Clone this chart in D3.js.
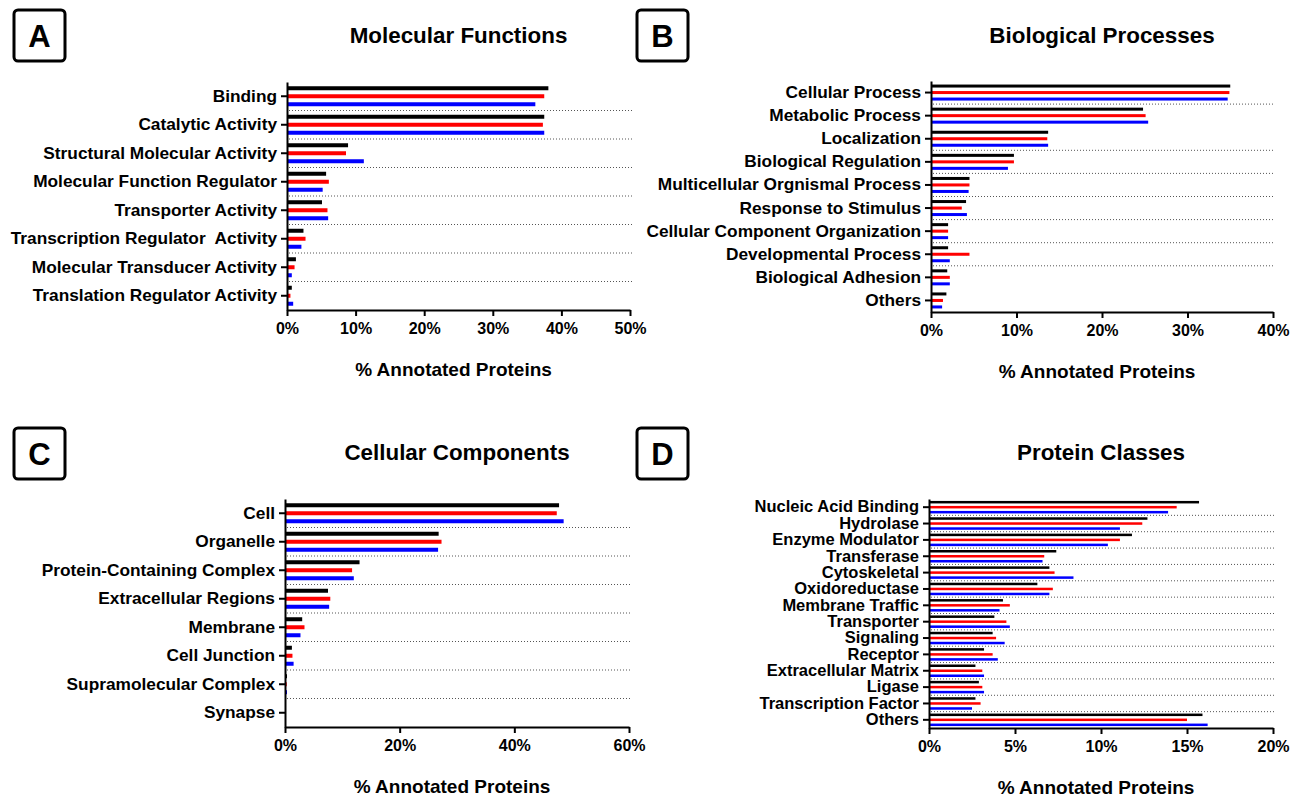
<!DOCTYPE html>
<html>
<head>
<meta charset="utf-8">
<script src="https://cdn.jsdelivr.net/npm/d3@7"></script>
<style>
  body { margin: 0; background: #fff; }
  text { font-family: "Liberation Sans", Arial, sans-serif; font-weight: bold; fill: #000; white-space: pre; }
</style>
</head>
<body>
<svg id="chart" width="1294" height="797"></svg>
<script>
// three series per category, drawn black / red / blue
const seriesColors = ["#000000", "#ff0000", "#0000ff"];

// A - Molecular Functions
const mfCategories = ["Binding", "Catalytic Activity", "Structural Molecular Activity", "Molecular Function Regulator",
  "Transporter Activity", "Transcription Regulator  Activity", "Molecular Transducer Activity", "Translation Regulator Activity"];
const mfBlack = [38.1, 37.5, 8.9, 5.7, 5.1, 2.4, 1.3, 0.7];
const mfRed   = [37.5, 37.3, 8.6, 6.1, 5.9, 2.7, 1.1, 0.5];
const mfBlue  = [36.2, 37.5, 11.2, 5.2, 6.0, 2.1, 0.7, 0.9];
const mfTicks = [0, 10, 20, 30, 40, 50];

// B - Biological Processes
const bpCategories = ["Cellular Process", "Metabolic Process", "Localization", "Biological Regulation",
  "Multicellular Orgnismal Process", "Response to Stimulus", "Cellular Component Organization",
  "Developmental Process", "Biological Adhesion", "Others"];
const bpBlack = [35.0, 24.8, 13.7, 9.7, 4.5, 4.1, 2.0, 2.0, 1.9, 1.8];
const bpRed   = [34.9, 25.1, 13.6, 9.7, 4.5, 3.6, 2.0, 4.5, 2.2, 1.4];
const bpBlue  = [34.7, 25.4, 13.7, 9.0, 4.4, 4.2, 2.0, 2.2, 2.2, 1.3];
const bpTicks = [0, 10, 20, 30, 40];
const bpNoSeparator = [2, 9]; // these dotted rules are not in the figure

// C - Cellular Components
const ccCategories = ["Cell", "Organelle", "Protein-Containing Complex", "Extracellular Regions",
  "Membrane", "Cell Junction", "Supramolecular Complex", "Synapse"];
const ccBlack = [47.8, 26.8, 13.0, 7.5, 3.0, 1.2, 0.35, 0];
const ccRed   = [47.4, 27.3, 11.7, 7.9, 3.4, 1.3, 0.3, 0];
const ccBlue  = [48.6, 26.7, 12.0, 7.7, 2.7, 1.5, 0.35, 0];
const ccTicks = [0, 20, 40, 60];

// D - Protein Classes
const pcCategories = ["Nucleic Acid Binding", "Hydrolase", "Enzyme Modulator", "Transferase", "Cytoskeletal",
  "Oxidoreductase", "Membrane Traffic", "Transporter", "Signaling", "Receptor", "Extracellular Matrix",
  "Ligase", "Transcription Factor", "Others"];
const pcBlack = [15.7, 12.7, 11.8, 7.4, 7.0, 6.3, 4.3, 3.8, 3.7, 3.2, 2.7, 2.9, 2.7, 15.9];
const pcRed   = [14.4, 12.4, 11.1, 6.7, 7.3, 7.2, 4.7, 4.5, 3.9, 3.7, 3.1, 3.1, 3.0, 15.0];
const pcBlue  = [13.9, 11.1, 10.4, 6.6, 8.4, 7.0, 4.1, 4.7, 4.4, 4.0, 3.2, 3.2, 2.5, 16.2];
const pcTicks = [0, 5, 10, 15, 20];

const svg = d3.select("#chart");

function drawPanel(p) {
  const g = svg.append("g");
  const x = d3.scaleLinear().domain([0, p.ticks[p.ticks.length - 1]]).range([p.x0, p.x1]);
  const y = d3.scaleBand().domain(p.categories).range([p.y0, p.y1]);
  const offset = d3.scaleLinear().domain([0, 2]).range([-p.gap, p.gap]);
  const skip = p.skip || [];

  // dotted rules between categories
  const seps = d3.range(1, p.categories.length).filter(i => !skip.includes(i));
  g.append("g").selectAll("line").data(seps).join("line")
    .attr("x1", p.x0 + 2).attr("x2", p.x1 + 2)
    .attr("y1", i => y(p.categories[i])).attr("y2", i => y(p.categories[i]))
    .attr("stroke", "#555").attr("stroke-width", 1).attr("stroke-dasharray", "1,2");

  p.series.forEach((vals, si) => {
    g.append("g").selectAll("rect").data(vals).join("rect")
      .attr("x", x(0))
      .attr("width", d => x(d) - x(0))
      .attr("y", (d, i) => y(p.categories[i]) + y.bandwidth() / 2 + offset(si) - p.barH / 2)
      .attr("height", p.barH)
      .attr("fill", seriesColors[si]);
  });

  const xAxis = g.append("g").attr("transform", `translate(0,${p.y1})`)
    .call(d3.axisBottom(x).tickValues(p.ticks).tickFormat(d => d + "%").tickSize(6).tickSizeOuter(0).tickPadding(7));
  const yAxis = g.append("g").attr("transform", `translate(${p.x0},0)`)
    .call(d3.axisLeft(y).tickSize(6).tickSizeOuter(0).tickPadding(4));

  [xAxis, yAxis].forEach(a => {
    a.select(".domain").attr("stroke", "#000").attr("stroke-width", 2);
    a.selectAll(".tick line").attr("stroke", "#000").attr("stroke-width", 2);
    a.selectAll("text").attr("fill", "#000");
  });
  xAxis.selectAll("text").style("font-size", "16px");
  yAxis.selectAll("text").style("font-size", p.labelSize + "px");

  const cx = (p.x0 + p.x1) / 2;
  g.append("text").attr("x", cx).attr("y", p.titleY).attr("text-anchor", "middle")
    .style("font-size", "22.4px").text(p.title);
  g.append("text").attr("x", cx - 5).attr("y", p.y1 + 66).attr("text-anchor", "middle")
    .style("font-size", "19px").text("% Annotated Proteins");

  g.append("rect").attr("x", p.boxX).attr("y", p.boxY).attr("width", 51).attr("height", 51)
    .attr("rx", 4).attr("fill", "none").attr("stroke", "#000").attr("stroke-width", 3);
  g.append("text").attr("x", p.boxX + 25.5).attr("y", p.boxY + 37).attr("text-anchor", "middle")
    .style("font-size", "31px").text(p.letter);
}

drawPanel({ letter: "A", title: "Molecular Functions", categories: mfCategories,
  series: [mfBlack, mfRed, mfBlue], ticks: mfTicks, labelSize: 17.3,
  x0: 287, x1: 630, y0: 82, y1: 310, gap: 8, barH: 4, titleY: 43, boxX: 14, boxY: 10 });

drawPanel({ letter: "B", title: "Biological Processes", categories: bpCategories,
  series: [bpBlack, bpRed, bpBlue], ticks: bpTicks, skip: bpNoSeparator, labelSize: 17.3,
  x0: 931, x1: 1273, y0: 81, y1: 312, gap: 6.5, barH: 3, titleY: 43, boxX: 637, boxY: 10 });

drawPanel({ letter: "C", title: "Cellular Components", categories: ccCategories,
  series: [ccBlack, ccRed, ccBlue], ticks: ccTicks, labelSize: 17.3,
  x0: 285, x1: 629, y0: 499, y1: 727, gap: 8, barH: 4, titleY: 460, boxX: 14, boxY: 428 });

drawPanel({ letter: "D", title: "Protein Classes", categories: pcCategories,
  series: [pcBlack, pcRed, pcBlue], ticks: pcTicks, labelSize: 16.5,
  x0: 929, x1: 1273, y0: 499, y1: 728, gap: 5, barH: 2.5, titleY: 460, boxX: 637, boxY: 428 });
</script>
</body>
</html>
